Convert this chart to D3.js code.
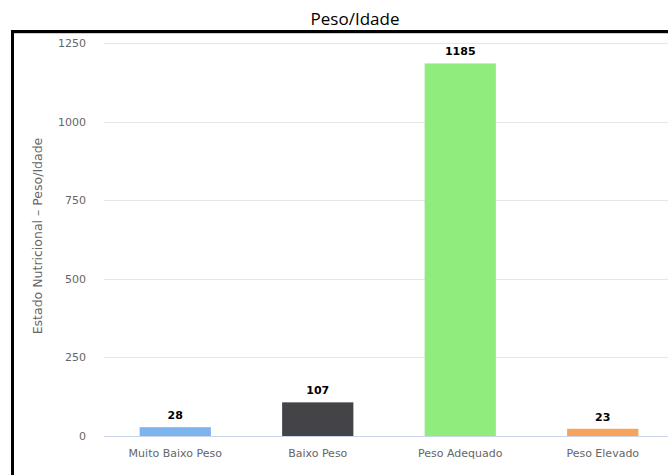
<!DOCTYPE html>
<html>
<head>
<meta charset="utf-8">
<script src="https://cdn.jsdelivr.net/npm/d3@7"></script>
<style>
	body { margin: 0; background: #fff; }
	svg { display: block; }
</style>
</head>
<body>
<div id="chart"></div>
<script>
// data
const categories = ["Muito Baixo Peso", "Baixo Peso", "Peso Adequado", "Peso Elevado"];
const values = [28, 107, 1185, 23];
const colors = ["#7cb5ec", "#434348", "#90ed7d", "#f7a35c"];
const yTicks = [0, 250, 500, 750, 1000, 1250];

const width = 668;
const height = 475;
const margin = { top: 43, right: -6, bottom: 39, left: 104 };

const svg = d3.select("#chart")
	.append("svg")
	.attr("width", width)
	.attr("height", height);

// title
svg.append("text")
	.attr("x", 355)
	.attr("y", 25)
	.attr("text-anchor", "middle")
	.attr("font-family", "Open Sans, sans-serif")
	.attr("font-size", "17px")
	.attr("fill", "#000")
	.text("Peso/Idade");

// frame
svg.append("rect")
	.attr("x", 12.5)
	.attr("y", 31.5)
	.attr("width", 700)
	.attr("height", 500)
	.attr("fill", "none")
	.attr("stroke", "#000")
	.attr("stroke-width", 3);

svg.append("line")
	.attr("x1", 14).attr("x2", width)
	.attr("y1", 33.5).attr("y2", 33.5)
	.attr("stroke", "#ccc")
	.attr("stroke-width", 1);

const x = d3.scaleBand()
	.domain(categories)
	.range([margin.left, width - margin.right])
	.padding(0.5)
	.paddingOuter(0.25);

const y = d3.scaleLinear()
	.domain([0, 1250])
	.range([height - margin.bottom, margin.top]);

// grid
svg.append("g")
	.selectAll("line")
	.data(yTicks.filter((d) => d > 0))
	.enter()
	.append("line")
	.attr("x1", margin.left)
	.attr("x2", width)
	.attr("y1", (d) => Math.round(y(d)) + 0.5)
	.attr("y2", (d) => Math.round(y(d)) + 0.5)
	.attr("stroke", "#e6e6e6")
	.attr("stroke-width", 1);

// y tick labels
svg.append("g")
	.selectAll("text")
	.data(yTicks)
	.enter()
	.append("text")
	.attr("x", 86)
	.attr("y", (d) => y(d) + 4)
	.attr("text-anchor", "end")
	.attr("font-family", "DejaVu Sans, sans-serif")
	.attr("font-size", "11px")
	.attr("fill", "#666")
	.text((d) => d);

// y axis title
svg.append("text")
	.attr("transform", "translate(42,236) rotate(-90)")
	.attr("text-anchor", "middle")
	.attr("font-family", "DejaVu Sans, sans-serif")
	.attr("font-size", "12.5px")
	.attr("fill", "#666")
	.text("Estado Nutricional – Peso/Idade");

// bars
svg.append("g")
	.selectAll("rect")
	.data(values)
	.enter()
	.append("rect")
	.attr("x", (d, i) => x(categories[i]))
	.attr("y", (d) => y(d))
	.attr("width", x.bandwidth())
	.attr("height", (d) => y(0) - y(d))
	.attr("fill", (d, i) => colors[i]);

// x axis line
svg.append("line")
	.attr("x1", margin.left)
	.attr("x2", width)
	.attr("y1", Math.round(y(0)) + 0.5)
	.attr("y2", Math.round(y(0)) + 0.5)
	.attr("stroke", "#ccd6eb")
	.attr("stroke-width", 1);

// x labels
svg.append("g")
	.selectAll("text")
	.data(categories)
	.enter()
	.append("text")
	.attr("x", (d) => x(d) + x.bandwidth() / 2)
	.attr("y", y(0) + 21)
	.attr("text-anchor", "middle")
	.attr("font-family", "DejaVu Sans, sans-serif")
	.attr("font-size", "11px")
	.attr("fill", "#666")
	.text((d) => d);

// value labels
svg.append("g")
	.selectAll("text")
	.data(values)
	.enter()
	.append("text")
	.attr("x", (d, i) => x(categories[i]) + x.bandwidth() / 2)
	.attr("y", (d) => y(d) - 8)
	.attr("text-anchor", "middle")
	.attr("font-family", "DejaVu Sans, sans-serif")
	.attr("font-size", "11px")
	.attr("font-weight", "bold")
	.attr("fill", "#000")
	.text((d) => d);
</script>
</body>
</html>
